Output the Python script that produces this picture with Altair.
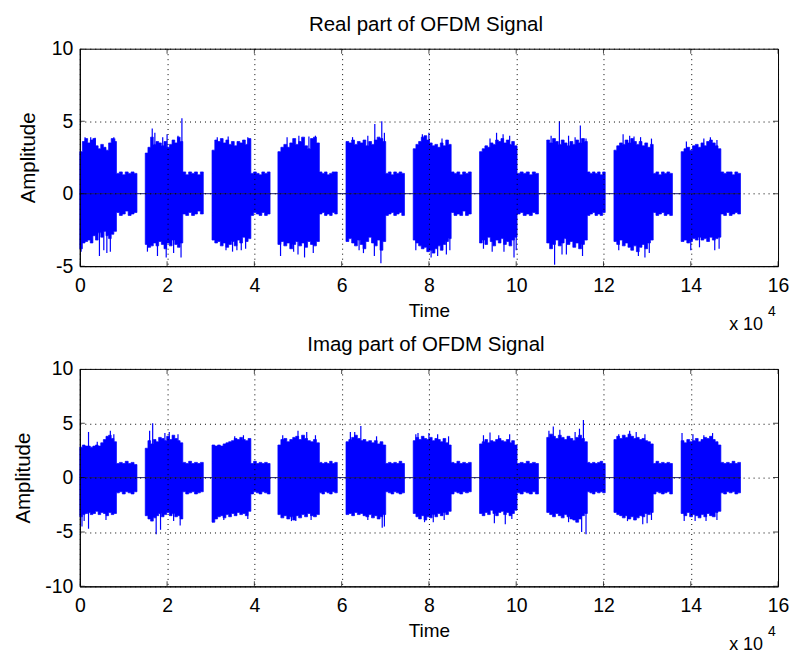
import altair as alt
import pandas as pd

# ---------------- data ----------------
X_TICKS = [0, 2, 4, 6, 8, 10, 12, 14, 16]
REAL_Y_TICKS = [-5, 0, 5, 10]
IMAG_Y_TICKS = [-10, -5, 0, 5, 10]

# burst timing (x 10^4 samples)
BURST_START = [0.00, 1.50, 3.03, 4.54, 6.10, 7.64, 9.16, 10.70, 12.24, 13.78]
HIGH_END = [0.84, 2.36, 3.92, 5.49, 7.01, 8.51, 10.02, 11.63, 13.14, 14.69]
BURST_END = [1.31, 2.83, 4.36, 5.90, 7.44, 8.97, 10.51, 12.04, 13.58, 15.14]

# Real part: envelope of the high-amplitude section of every burst
REAL_UP_HI = [
    [2.9, 3.6, 3.8, 3.5, 3.7, 3.8, 3.3, 3.1, 3.4, 3.2, 3.0, 3.5, 3.8, 3.6],
    [2.8, 3.2, 3.9, 3.4, 3.6, 3.5, 3.3, 3.6, 3.2, 3.4, 3.7, 3.5, 3.9, 3.6],
    [3.0, 3.7, 3.6, 3.8, 3.5, 3.7, 3.4, 3.6, 3.3, 3.6, 3.5, 3.7, 3.4, 3.8],
    [2.9, 3.2, 3.4, 3.2, 3.5, 3.8, 3.4, 3.6, 3.9, 3.3, 3.1, 3.8, 3.9, 3.5],
    [3.6, 3.5, 3.7, 3.4, 3.6, 3.5, 3.7, 3.3, 3.6, 3.4, 3.7, 3.9, 3.8, 3.6],
    [3.1, 3.4, 3.6, 3.9, 4.0, 3.7, 3.5, 3.3, 3.4, 3.2, 3.5, 3.3, 3.7, 3.4],
    [2.9, 3.1, 3.3, 3.2, 3.5, 3.4, 3.7, 3.6, 3.8, 3.5, 3.7, 3.4, 3.6, 3.3],
    [3.7, 3.5, 3.8, 3.6, 3.4, 3.7, 3.5, 3.3, 3.6, 3.4, 3.7, 3.5, 3.8, 3.6],
    [3.0, 3.3, 3.5, 3.4, 3.7, 3.5, 3.8, 3.6, 3.4, 3.6, 3.3, 3.5, 3.2, 3.4],
    [2.9, 3.1, 3.2, 3.0, 3.3, 3.4, 3.2, 3.5, 3.3, 3.6, 3.7, 3.5, 3.3, 3.1],
]
REAL_LO_HI = [
    [-3.8, -3.4, -3.3, -3.2, -3.4, -2.9, -3.2, -2.7, -3.0, -2.6, -2.9, -3.1, -2.8, -2.6],
    [-3.5, -3.7, -3.6, -3.4, -3.6, -3.3, -3.5, -3.8, -3.4, -3.6, -3.2, -3.5, -3.7, -3.4],
    [-3.2, -3.4, -3.3, -3.6, -3.4, -3.7, -3.5, -3.3, -3.6, -3.2, -3.4, -3.0, -3.3, -3.1],
    [-3.5, -3.3, -3.6, -3.4, -3.8, -3.5, -3.3, -3.6, -3.4, -3.7, -3.3, -3.5, -3.6, -3.3],
    [-3.3, -3.1, -3.4, -3.6, -3.2, -3.5, -3.8, -3.3, -3.0, -3.4, -3.6, -3.2, -3.9, -3.3],
    [-3.2, -3.4, -3.6, -3.8, -3.7, -4.0, -3.9, -4.1, -3.8, -3.6, -3.9, -3.5, -3.3, -3.1],
    [-3.4, -3.2, -3.5, -3.0, -3.3, -3.6, -3.2, -3.4, -3.1, -3.5, -3.3, -3.6, -3.2, -3.0],
    [-3.4, -3.8, -3.5, -3.2, -3.6, -3.4, -3.1, -3.5, -3.3, -3.7, -3.4, -3.8, -3.5, -3.2],
    [-3.3, -3.5, -3.2, -3.6, -3.4, -3.7, -3.9, -3.6, -4.0, -3.7, -3.5, -3.8, -3.4, -3.2],
    [-3.3, -3.2, -3.4, -3.3, -3.1, -3.2, -3.0, -3.2, -3.1, -3.3, -3.0, -3.2, -3.1, -3.0],
]
# Real part: envelope of the low-amplitude tail of every burst
REAL_UP_LO = [
    [1.4, 1.5, 1.3, 1.5, 1.4, 1.5, 1.4],
    [1.5, 1.3, 1.5, 1.4, 1.5, 1.3, 1.5],
    [1.4, 1.5, 1.4, 1.3, 1.5, 1.4, 1.5],
    [1.5, 1.4, 1.5, 1.3, 1.4, 1.5, 1.5],
    [1.4, 1.5, 1.3, 1.5, 1.4, 1.5, 1.4],
    [1.5, 1.4, 1.5, 1.3, 1.5, 1.4, 1.5],
    [1.4, 1.5, 1.4, 1.5, 1.3, 1.5, 1.4],
    [1.5, 1.4, 1.5, 1.4, 1.5, 1.3, 1.5],
    [1.4, 1.5, 1.3, 1.5, 1.4, 1.5, 1.4],
    [1.5, 1.4, 1.5, 1.5, 1.3, 1.5, 1.4],
]
REAL_LO_LO = [
    [-1.3, -1.5, -1.4, -1.2, -1.5, -1.4, -1.3],
    [-1.4, -1.5, -1.3, -1.5, -1.4, -1.2, -1.4],
    [-1.5, -1.3, -1.4, -1.5, -1.3, -1.5, -1.4],
    [-1.4, -1.3, -1.5, -1.4, -1.5, -1.3, -1.4],
    [-1.5, -1.4, -1.3, -1.5, -1.4, -1.3, -1.5],
    [-1.3, -1.5, -1.4, -1.5, -1.2, -1.5, -1.4],
    [-1.4, -1.3, -1.5, -1.4, -1.5, -1.3, -1.4],
    [-1.5, -1.4, -1.3, -1.5, -1.4, -1.5, -1.3],
    [-1.3, -1.5, -1.4, -1.3, -1.5, -1.4, -1.5],
    [-1.4, -1.5, -1.3, -1.5, -1.4, -1.3, -1.4],
]
# Real part: isolated peaks
REAL_SPIKE_X = [0.03, 0.45, 0.62, 0.25, 0.78, 0.12, 0.35, 0.55, 0.70, 0.80,
                1.66, 2.34, 1.78, 1.98, 2.32, 2.00, 1.55, 1.72, 1.90, 2.15, 2.25,
                3.35, 3.50, 3.70, 3.85, 3.15, 3.40, 3.60, 3.80,
                4.60, 5.00, 5.15, 5.02, 5.40, 4.75, 4.90, 5.25, 5.35,
                6.76, 6.92, 6.90, 6.50, 6.75, 6.25, 6.40, 6.60, 6.98,
                8.05, 8.20, 8.40, 7.85, 7.70, 8.00, 8.30, 8.48,
                9.55, 9.70, 9.95, 9.45, 9.72, 9.25, 9.40, 9.85, 10.00,
                10.99, 11.47, 11.20, 10.88, 11.52, 11.15, 10.80, 11.05, 11.35, 11.60,
                12.45, 12.60, 12.85, 12.80, 12.95, 12.35, 12.70, 13.05, 13.10,
                14.45, 14.30, 14.00, 14.55, 13.90, 14.20, 14.60, 14.65]
REAL_SPIKE_Y = [-4.0, -4.3, -4.1, 3.9, 3.9, 3.9, 3.85, -3.9, -4.0, 3.8,
                4.5, 5.2, -4.3, -4.4, -4.4, 4.1, -4.0, 4.2, 3.9, -4.1, 4.0,
                -3.9, -4.0, -3.9, 3.9, 3.9, 3.95, -3.9, -3.8,
                -4.3, -4.2, -4.4, 4.0, 4.0, 3.9, -4.0, 3.95, -4.1,
                4.8, 5.0, -4.8, -4.1, -4.3, 3.9, -3.9, 4.0, 4.2,
                -4.4, -4.3, -4.2, 4.1, -3.9, 4.2, 3.8, -3.9,
                4.2, 4.1, -4.4, -4.0, -4.0, -3.8, 3.8, 4.0, -3.9,
                5.0, 4.7, 4.0, -4.9, -4.3, -4.2, 4.0, -4.2, 3.9, 3.8,
                4.1, 4.0, 3.9, -4.3, -4.4, -3.9, 3.95, -4.1, 3.8,
                3.9, 3.8, -3.9, -3.9, 3.6, -3.7, 3.7, -3.8]

# Imag part
IMAG_UP_HI = [
    [2.8, 3.0, 2.9, 2.9, 2.8, 2.9, 3.0, 2.9, 3.2, 3.5, 3.8, 3.9, 3.6, 3.3],
    [2.7, 3.4, 3.1, 3.5, 3.3, 3.7, 3.6, 3.4, 3.8, 3.5, 3.9, 3.6, 3.4, 3.2],
    [3.0, 2.9, 3.0, 2.9, 3.1, 3.2, 3.3, 3.4, 3.6, 3.5, 3.7, 3.5, 3.4, 3.6],
    [3.0, 3.5, 3.6, 3.3, 3.5, 3.7, 3.8, 3.5, 3.9, 3.6, 3.4, 3.3, 3.5, 3.2],
    [3.3, 3.5, 3.7, 3.9, 3.6, 3.4, 3.5, 3.3, 3.4, 3.2, 3.4, 3.1, 3.3, 3.0],
    [3.4, 3.7, 3.5, 3.8, 3.6, 3.5, 3.7, 3.4, 3.6, 3.5, 3.3, 3.6, 3.2, 3.0],
    [3.1, 3.3, 3.5, 3.2, 3.4, 3.3, 3.5, 3.6, 3.4, 3.3, 3.5, 3.2, 3.4, 3.0],
    [3.7, 4.0, 3.8, 3.6, 3.9, 3.7, 3.5, 3.8, 3.6, 3.4, 3.7, 3.9, 3.6, 3.3],
    [3.5, 3.8, 3.6, 3.9, 3.7, 4.0, 3.8, 3.6, 3.7, 3.5, 3.6, 3.4, 3.3, 3.1],
    [3.4, 3.2, 3.5, 3.3, 3.4, 3.6, 3.3, 3.5, 3.7, 3.6, 3.8, 3.5, 3.3, 3.0],
]
IMAG_LO_HI = [
    [-3.6, -3.4, -3.3, -3.2, -3.4, -3.3, -3.1, -3.4, -3.2, -3.3, -3.5, -3.2, -3.4, -3.3],
    [-3.5, -3.8, -4.0, -3.7, -3.5, -3.3, -3.6, -3.4, -3.2, -3.5, -3.3, -3.6, -3.5, -3.8],
    [-4.1, -3.8, -3.6, -3.5, -3.7, -3.4, -3.6, -3.3, -3.5, -3.2, -3.4, -3.3, -3.5, -3.1],
    [-3.4, -3.7, -3.5, -3.8, -3.6, -3.9, -3.5, -3.7, -3.4, -3.6, -3.3, -3.5, -3.6, -3.4],
    [-3.4, -3.3, -3.5, -3.2, -3.4, -3.3, -3.5, -3.6, -3.4, -3.7, -3.5, -3.8, -3.6, -3.4],
    [-3.3, -3.6, -3.8, -3.5, -3.9, -3.6, -3.7, -3.4, -3.6, -3.3, -3.5, -3.2, -3.4, -3.1],
    [-3.3, -3.5, -3.2, -3.4, -3.0, -3.3, -3.5, -3.2, -3.1, -3.4, -3.2, -3.5, -3.3, -3.0],
    [-3.2, -3.4, -3.6, -3.3, -3.5, -3.7, -3.4, -3.6, -3.8, -3.9, -4.1, -3.8, -3.5, -3.3],
    [-3.2, -3.4, -3.5, -3.7, -3.5, -3.8, -3.6, -3.9, -3.7, -3.5, -3.6, -3.3, -3.4, -3.2],
    [-3.3, -3.5, -3.2, -3.6, -3.4, -3.5, -3.7, -3.4, -3.6, -3.3, -3.5, -3.6, -3.2, -3.1],
]
IMAG_UP_LO = [
    [1.3, 1.4, 1.3, 1.5, 1.3, 1.4, 1.2],
    [1.4, 1.3, 1.5, 1.3, 1.4, 1.3, 1.4],
    [1.3, 1.5, 1.3, 1.4, 1.3, 1.4, 1.3],
    [1.4, 1.3, 1.4, 1.3, 1.5, 1.3, 1.4],
    [1.3, 1.4, 1.3, 1.4, 1.3, 1.5, 1.3],
    [1.4, 1.3, 1.5, 1.3, 1.4, 1.3, 1.4],
    [1.3, 1.4, 1.3, 1.5, 1.3, 1.4, 1.3],
    [1.4, 1.3, 1.4, 1.3, 1.4, 1.5, 1.3],
    [1.3, 1.5, 1.3, 1.4, 1.3, 1.4, 1.3],
    [1.4, 1.3, 1.4, 1.3, 1.5, 1.3, 1.4],
]
IMAG_LO_LO = [
    [-1.4, -1.3, -1.5, -1.3, -1.4, -1.5, -1.3],
    [-1.3, -1.5, -1.4, -1.3, -1.5, -1.4, -1.3],
    [-1.5, -1.3, -1.4, -1.5, -1.3, -1.4, -1.5],
    [-1.4, -1.5, -1.3, -1.4, -1.5, -1.3, -1.4],
    [-1.3, -1.4, -1.5, -1.3, -1.4, -1.5, -1.4],
    [-1.5, -1.3, -1.4, -1.5, -1.3, -1.4, -1.3],
    [-1.4, -1.5, -1.3, -1.4, -1.5, -1.3, -1.5],
    [-1.3, -1.4, -1.5, -1.3, -1.4, -1.3, -1.4],
    [-1.5, -1.3, -1.4, -1.5, -1.4, -1.3, -1.5],
    [-1.4, -1.5, -1.3, -1.4, -1.3, -1.5, -1.4],
]
IMAG_SPIKE_X = [0.20, 0.70, 0.05, 0.20, 0.10, 0.40, 0.60, 0.78,
                1.67, 1.60, 2.05, 1.75, 1.85, 2.30, 1.95, 2.15, 2.25,
                3.05, 3.30, 3.55, 3.75, 3.85,
                5.00, 5.20, 4.85, 4.65, 4.95, 5.30, 5.40,
                6.44, 6.30, 6.93, 6.98, 6.20, 6.60, 6.80,
                7.75, 8.20, 7.90, 8.10, 7.70, 8.00, 8.35, 8.45,
                9.40, 9.85, 9.50, 9.75, 9.25, 9.60, 9.90,
                11.54, 10.85, 11.45, 11.50, 11.60, 10.75, 11.00, 11.20, 11.35,
                12.60, 12.75, 12.90, 13.00, 12.35, 12.55, 12.95, 13.10,
                13.80, 14.50, 14.10, 14.35, 13.85, 14.05, 14.30, 14.60]
IMAG_SPIKE_Y = [4.2, 4.3, -4.5, -4.7, -4.0, 3.3, -3.9, 4.0,
                5.0, 4.3, 4.2, -5.2, -4.8, -4.4, 4.1, -4.0, 4.0,
                -4.1, -3.9, 3.8, 3.9, -3.8,
                4.3, 4.2, -4.0, 3.9, -4.0, -3.9, 3.9,
                4.75, 4.2, -4.6, -4.5, 4.2, -3.9, 3.8,
                4.1, 4.0, -4.1, -4.1, 4.0, 4.1, -3.9, 3.8,
                4.15, 4.0, -4.2, -4.3, 3.9, 3.9, -3.8,
                5.3, 4.7, 4.5, -5.0, -5.2, 4.3, 4.4, -4.1, 4.2,
                4.3, 4.2, -4.3, -4.2, 4.0, -4.0, 4.0, -3.9,
                4.1, 4.1, -4.0, -4.0, -4.0, 4.0, 3.9, -3.9]

# ---------------- styling ----------------
FONT = "Liberation Sans"
LABEL_FS = 19.5
TITLE_FS = 20.5
BLUE = "#0000ff"
W, H = 700, 218


def envelope_table(up_hi, lo_hi, up_lo, lo_lo):
    rows = []
    for b in range(len(BURST_START)):
        s, h, e = BURST_START[b], HIGH_END[b], BURST_END[b]
        n1, n2 = len(up_hi[b]), len(up_lo[b])
        for i in range(n1):
            rows.append({"burst": b, "x": s + (h - s) * i / n1, "up": up_hi[b][i], "lo": lo_hi[b][i]})
        for j in range(n2):
            rows.append({"burst": b, "x": h + (e - h) * j / n2, "up": up_lo[b][j], "lo": lo_lo[b][j]})
        rows.append({"burst": b, "x": e, "up": up_lo[b][-1], "lo": lo_lo[b][-1]})
    return pd.DataFrame(rows)


def panel(title, up_hi, lo_hi, up_lo, lo_lo, spx, spy, ydom, yticks, ytitle_pad):
    xs = alt.Scale(domain=[0, 16], nice=False, zero=False)
    ys = alt.Scale(domain=ydom, nice=False, zero=False)
    common = dict(grid=True, gridDash=[1, 4], gridColor="black", gridOpacity=1, gridWidth=1,
                  ticks=False, domain=True, domainColor="black", domainWidth=1,
                  labelFont=FONT, labelFontSize=LABEL_FS, labelColor="black",
                  titleFont=FONT, titleFontWeight="normal", titleColor="black",
                  zindex=1, labelExpr="'' + datum.value")
    x_axis = alt.Axis(values=X_TICKS, title="Time", labelPadding=10, titlePadding=7,
                      titleFontSize=19, labelFlush=False, **common)
    y_axis = alt.Axis(values=yticks, title="Amplitude", labelPadding=7, titlePadding=ytitle_pad,
                      titleFontSize=TITLE_FS, **common)

    env = envelope_table(up_hi, lo_hi, up_lo, lo_lo)
    area = alt.Chart(env).mark_area(interpolate="step-after", color=BLUE, stroke=BLUE, strokeWidth=0.7).encode(
        x=alt.X("x:Q", scale=xs, axis=x_axis),
        y=alt.Y("up:Q", scale=ys, axis=y_axis),
        y2="lo:Q",
        detail="burst:N",
    )
    zero = alt.Chart(pd.DataFrame({"x": [BURST_START[0], BURST_END[-1]]})).mark_line(
        color="#1c1c70", strokeWidth=1).encode(x=alt.X("x:Q", scale=xs), y=alt.datum(0))
    spikes = alt.Chart(pd.DataFrame({"x": spx, "y": spy})).mark_rule(color=BLUE, strokeWidth=1.2).encode(
        x=alt.X("x:Q", scale=xs), y=alt.Y("y:Q", scale=ys), y2=alt.datum(0))

    xt = pd.DataFrame({"x": X_TICKS})
    yt = pd.DataFrame({"y": yticks})
    tick_style = dict(color="black", size=10, thickness=1, clip=True)
    t_bottom = alt.Chart(xt).mark_tick(orient="vertical", **tick_style).encode(
        x=alt.X("x:Q", scale=xs), y=alt.datum(ydom[0]))
    t_top = alt.Chart(xt).mark_tick(orient="vertical", **tick_style).encode(
        x=alt.X("x:Q", scale=xs), y=alt.datum(ydom[1]))
    t_left = alt.Chart(yt).mark_tick(orient="horizontal", **tick_style).encode(
        y=alt.Y("y:Q", scale=ys), x=alt.datum(0))
    t_right = alt.Chart(yt).mark_tick(orient="horizontal", **tick_style).encode(
        y=alt.Y("y:Q", scale=ys), x=alt.datum(16))

    head = alt.Chart(pd.DataFrame({"t": [title]})).mark_text(
        font=FONT, fontSize=TITLE_FS, align="center", baseline="alphabetic", color="black").encode(
        text="t:N", x=alt.value(W / 2 - 3), y=alt.value(-17.5))
    exp_base = alt.Chart(pd.DataFrame({"t": ["x 10"]})).mark_text(
        font=FONT, fontSize=18, align="left", baseline="alphabetic", color="black").encode(
        text="t:N", x=alt.value(651), y=alt.value(282))
    exp_pow = alt.Chart(pd.DataFrame({"t": ["4"]})).mark_text(
        font=FONT, fontSize=14, align="left", baseline="alphabetic", color="black").encode(
        text="t:N", x=alt.value(690), y=alt.value(268))

    return alt.layer(area, zero, spikes, t_bottom, t_top, t_left, t_right, head, exp_base, exp_pow).properties(
        width=W, height=H)


top = panel("Real part of OFDM Signal", REAL_UP_HI, REAL_LO_HI, REAL_UP_LO, REAL_LO_LO,
            REAL_SPIKE_X, REAL_SPIKE_Y, [-5, 10], REAL_Y_TICKS, 13)
bottom = panel("Imag part of OFDM Signal", IMAG_UP_HI, IMAG_LO_HI, IMAG_UP_LO, IMAG_LO_LO,
               IMAG_SPIKE_X, IMAG_SPIKE_Y, [-10, 10], IMAG_Y_TICKS, 11)

chart = alt.vconcat(top, bottom, spacing=103, bounds="flush").properties(
    padding={"left": 13, "top": 14, "right": 0, "bottom": 0},
    background="white",
).configure_view(stroke="black", strokeWidth=1)

chart.save("out.html", embed_options={"renderer": "svg", "actions": False})
